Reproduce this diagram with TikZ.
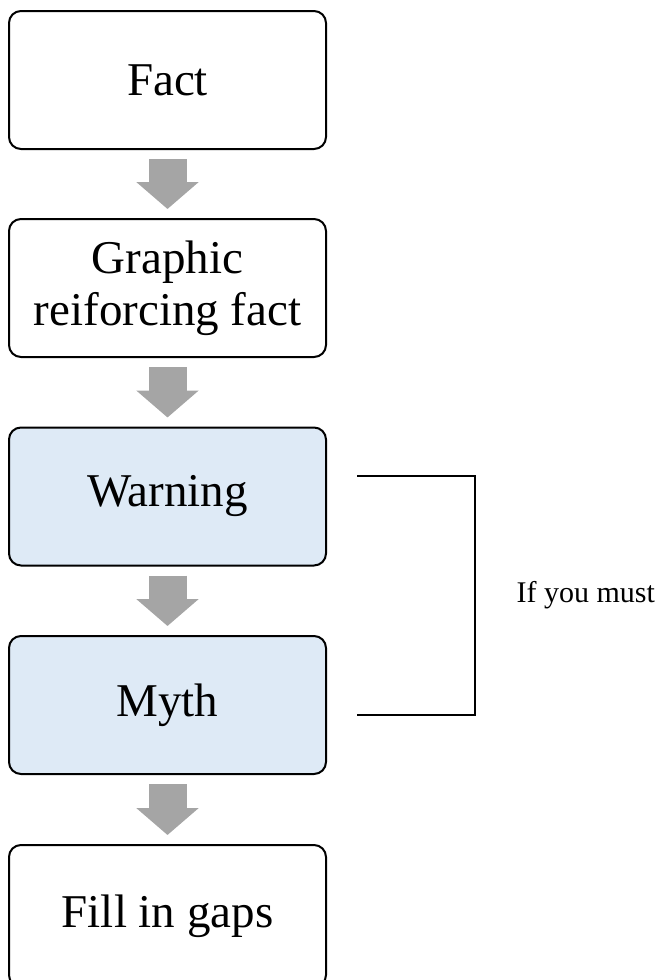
\documentclass[tikz,border=0pt]{standalone}
\usepackage{fontspec}
\setmainfont{Liberation Serif}
\usetikzlibrary{arrows.meta}
\definecolor{boxblue}{RGB}{222,234,246}
\definecolor{arrowgray}{RGB}{165,165,165}
\begin{document}
\begin{tikzpicture}[x=1pt,y=1pt,
    stepbox/.style={draw, line width=2pt, rounded corners=12pt, fill=white,
      minimum width=317pt, minimum height=138pt, align=center,
      font=\fontsize{47}{52}\selectfont},
    flow/.style={draw=none, arrowgray, line width=38pt,
      -{Triangle[width=61pt,length=27pt]}}]
    \useasboundingbox (0,0) rectangle (665,-980);

    % Steps
    \node[stepbox] (fact) at (167.5,-80) {Fact};
    \node[stepbox] (graphic) at (167.5,-288) {Graphic\\reiforcing fact};
    \node[stepbox, fill=boxblue] (warning) at (167.5,-496.5) {Warning};
    \node[stepbox, fill=boxblue] (myth) at (167.5,-705) {Myth};
    \node[stepbox, minimum height=142pt] (gaps) at (167.5,-916) {Fill in gaps};

    % Arrows between steps
    \draw[flow, draw=arrowgray] ([yshift=-9pt]fact.south) -- ([yshift=9pt]graphic.north);
    \draw[flow, draw=arrowgray] ([yshift=-9pt]graphic.south) -- ([yshift=9pt]warning.north);
    \draw[flow, draw=arrowgray] ([yshift=-9pt]warning.south) -- ([yshift=9pt]myth.north);
    \draw[flow, draw=arrowgray] ([yshift=-9pt]myth.south) -- ([yshift=9pt]gaps.north);

    % Bracket
    \coordinate (btop) at (357,-476);
    \coordinate (bbot) at (357,-715);
    \draw[line width=2pt] (btop) -- ++(118,0) |- (bbot);
    \node[anchor=west, font=\fontsize{30}{34}\selectfont] (must) at (513,-595.5) {If you must};
\end{tikzpicture}
\end{document}
